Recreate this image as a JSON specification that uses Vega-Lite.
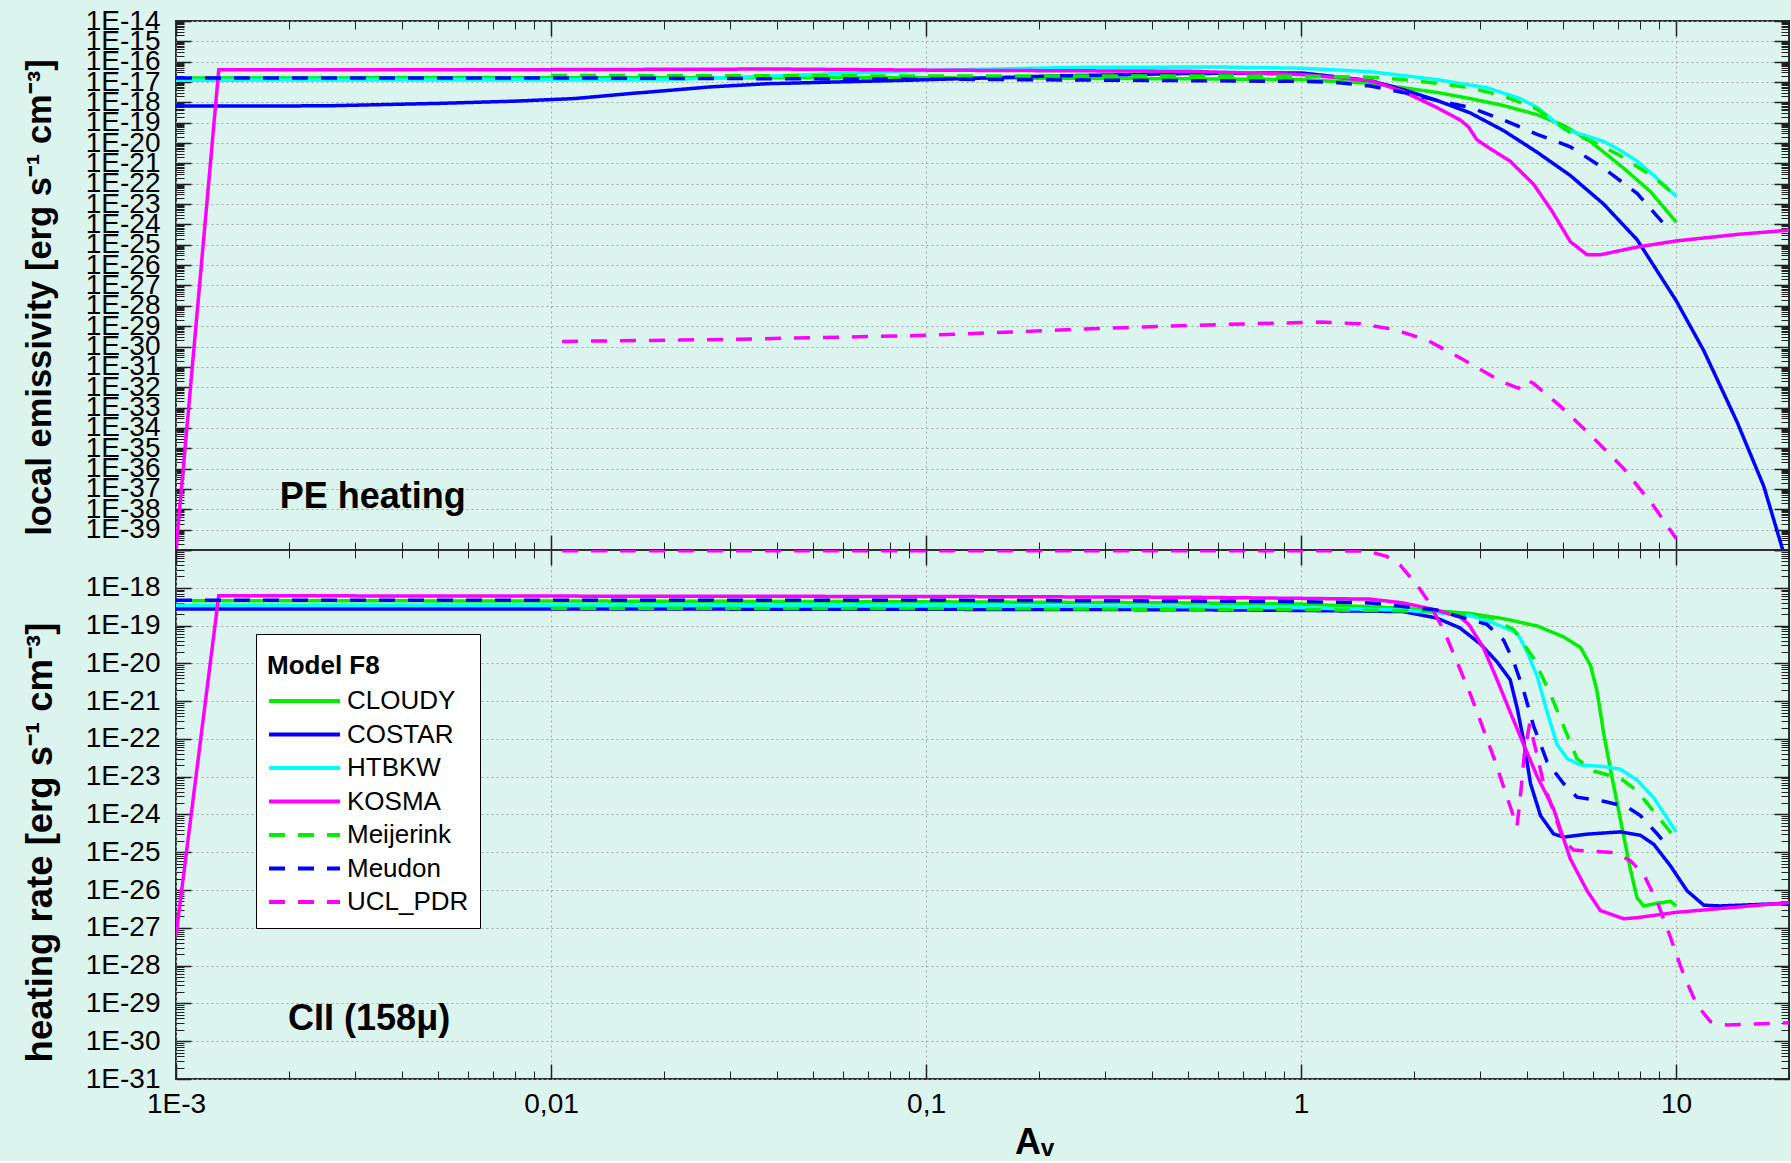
{
  "$schema": "https://vega.github.io/schema/vega-lite/v6.json",
  "background": "#dcf4ee",
  "padding": {"left": 21, "top": 6, "right": 4, "bottom": 0},
  "spacing": 0,
  "bounds": "flush",
  "config": {
    "view": {"stroke": "#303030", "strokeWidth": 2},
    "font": "Liberation Sans",
    "axis": {"domain": false, "labelOverlap": false, "labelFlush": false, "gridColor": "#a8a8a8", "gridDash": [2, 3], "gridWidth": 1, "tickColor": "#202020", "labelColor": "#000000", "labelFont": "Liberation Sans", "labelFontSize": 28, "titleColor": "#000000"}
  },
  "datasets": {
    "notes": [
      {"p": "PE", "t": "PE heating", "x": 0.00189, "y": 1.17e-38},
      {"p": "CII", "t": "CII (158μ)", "x": 0.00199, "y": 1.95e-30}
    ],
    "lines": [
      {"p":"PE","m":"CLOUDY","x":0.0011,"y":1.585e-17},
      {"p":"PE","m":"CLOUDY","x":0.01,"y":1.622e-17},
      {"p":"PE","m":"CLOUDY","x":0.1,"y":1.622e-17},
      {"p":"PE","m":"CLOUDY","x":0.5,"y":1.445e-17},
      {"p":"PE","m":"CLOUDY","x":1,"y":1.318e-17},
      {"p":"PE","m":"CLOUDY","x":1.53,"y":8.71e-18},
      {"p":"PE","m":"CLOUDY","x":1.87,"y":5.25e-18},
      {"p":"PE","m":"CLOUDY","x":2.3,"y":3.09e-18},
      {"p":"PE","m":"CLOUDY","x":2.82,"y":1.549e-18},
      {"p":"PE","m":"CLOUDY","x":3.47,"y":6.92e-19},
      {"p":"PE","m":"CLOUDY","x":4.26,"y":2.512e-19},
      {"p":"PE","m":"CLOUDY","x":5.01,"y":7.41e-20},
      {"p":"PE","m":"CLOUDY","x":5.91,"y":1.202e-20},
      {"p":"PE","m":"CLOUDY","x":7.25,"y":5.75e-22},
      {"p":"PE","m":"CLOUDY","x":8.54,"y":4.17e-23},
      {"p":"PE","m":"CLOUDY","x":10,"y":1.318e-24},

      {"p":"PE","m":"COSTAR","x":0.001,"y":6.607e-19},
      {"p":"PE","m":"COSTAR","x":0.0025,"y":6.761e-19},
      {"p":"PE","m":"COSTAR","x":0.005,"y":8.913e-19},
      {"p":"PE","m":"COSTAR","x":0.008,"y":1.148e-18},
      {"p":"PE","m":"COSTAR","x":0.0116,"y":1.549e-18},
      {"p":"PE","m":"COSTAR","x":0.0164,"y":2.754e-18},
      {"p":"PE","m":"COSTAR","x":0.021,"y":3.981e-18},
      {"p":"PE","m":"COSTAR","x":0.0265,"y":5.754e-18},
      {"p":"PE","m":"COSTAR","x":0.038,"y":8.318e-18},
      {"p":"PE","m":"COSTAR","x":0.09,"y":1.23e-17},
      {"p":"PE","m":"COSTAR","x":0.21,"y":1.95e-17},
      {"p":"PE","m":"COSTAR","x":0.5,"y":2.63e-17},
      {"p":"PE","m":"COSTAR","x":1,"y":2.818e-17},
      {"p":"PE","m":"COSTAR","x":1.53,"y":1.175e-17},
      {"p":"PE","m":"COSTAR","x":1.87,"y":4.266e-18},
      {"p":"PE","m":"COSTAR","x":2.3,"y":1.259e-18},
      {"p":"PE","m":"COSTAR","x":2.82,"y":3.09e-19},
      {"p":"PE","m":"COSTAR","x":3.47,"y":4.074e-20},
      {"p":"PE","m":"COSTAR","x":4.26,"y":3.548e-21},
      {"p":"PE","m":"COSTAR","x":5.22,"y":2.57e-22},
      {"p":"PE","m":"COSTAR","x":6.41,"y":1e-23},
      {"p":"PE","m":"COSTAR","x":7.87,"y":1.778e-25},
      {"p":"PE","m":"COSTAR","x":10,"y":1.82e-28},
      {"p":"PE","m":"COSTAR","x":11.85,"y":6.31e-31},
      {"p":"PE","m":"COSTAR","x":14.55,"y":1.905e-34},
      {"p":"PE","m":"COSTAR","x":17.14,"y":1.318e-37},
      {"p":"PE","m":"COSTAR","x":19.25,"y":1e-40},

      {"p":"PE","m":"HTBKW","x":0.001,"y":1.23e-17},
      {"p":"PE","m":"HTBKW","x":0.02,"y":1.318e-17},
      {"p":"PE","m":"HTBKW","x":0.04,"y":1.995e-17},
      {"p":"PE","m":"HTBKW","x":0.09,"y":3.548e-17},
      {"p":"PE","m":"HTBKW","x":0.25,"y":5.248e-17},
      {"p":"PE","m":"HTBKW","x":0.6,"y":5.495e-17},
      {"p":"PE","m":"HTBKW","x":1,"y":4.786e-17},
      {"p":"PE","m":"HTBKW","x":1.53,"y":3.236e-17},
      {"p":"PE","m":"HTBKW","x":2.3,"y":1.318e-17},
      {"p":"PE","m":"HTBKW","x":3.13,"y":5.25e-18},
      {"p":"PE","m":"HTBKW","x":3.84,"y":1.549e-18},
      {"p":"PE","m":"HTBKW","x":4.26,"y":5.623e-19},
      {"p":"PE","m":"HTBKW","x":5.02,"y":4.898e-20},
      {"p":"PE","m":"HTBKW","x":5.79,"y":2.188e-20},
      {"p":"PE","m":"HTBKW","x":6.41,"y":1.202e-20},
      {"p":"PE","m":"HTBKW","x":7.1,"y":4.365e-21},
      {"p":"PE","m":"HTBKW","x":7.87,"y":1.288e-21},
      {"p":"PE","m":"HTBKW","x":8.72,"y":2.57e-22},
      {"p":"PE","m":"HTBKW","x":10,"y":2.455e-23},

      {"p":"PE","m":"KOSMA","x":0.001,"y":1e-40},
      {"p":"PE","m":"KOSMA","x":0.0013,"y":3.981e-17},
      {"p":"PE","m":"KOSMA","x":0.01,"y":4.074e-17},
      {"p":"PE","m":"KOSMA","x":0.04,"y":4.365e-17},
      {"p":"PE","m":"KOSMA","x":0.11,"y":3.802e-17},
      {"p":"PE","m":"KOSMA","x":0.5,"y":3.388e-17},
      {"p":"PE","m":"KOSMA","x":1,"y":2.344e-17},
      {"p":"PE","m":"KOSMA","x":1.53,"y":1.175e-17},
      {"p":"PE","m":"KOSMA","x":1.87,"y":3.467e-18},
      {"p":"PE","m":"KOSMA","x":2.3,"y":5.623e-19},
      {"p":"PE","m":"KOSMA","x":2.66,"y":1.349e-19},
      {"p":"PE","m":"KOSMA","x":2.8,"y":6.026e-20},
      {"p":"PE","m":"KOSMA","x":2.94,"y":1.479e-20},
      {"p":"PE","m":"KOSMA","x":3.19,"y":5.37e-21},
      {"p":"PE","m":"KOSMA","x":3.61,"y":1.288e-21},
      {"p":"PE","m":"KOSMA","x":4.17,"y":9.333e-23},
      {"p":"PE","m":"KOSMA","x":4.67,"y":4.467e-24},
      {"p":"PE","m":"KOSMA","x":5.22,"y":1.445e-25},
      {"p":"PE","m":"KOSMA","x":5.79,"y":3.236e-26},
      {"p":"PE","m":"KOSMA","x":6.28,"y":3.236e-26},
      {"p":"PE","m":"KOSMA","x":7.87,"y":7.762e-26},
      {"p":"PE","m":"KOSMA","x":10,"y":1.549e-25},
      {"p":"PE","m":"KOSMA","x":14.55,"y":3.236e-25},
      {"p":"PE","m":"KOSMA","x":20,"y":5.248e-25},

      {"p":"PE","m":"Meijerink","x":0.01,"y":2.089e-17},
      {"p":"PE","m":"Meijerink","x":0.1,"y":1.995e-17},
      {"p":"PE","m":"Meijerink","x":0.5,"y":1.995e-17},
      {"p":"PE","m":"Meijerink","x":1,"y":1.905e-17},
      {"p":"PE","m":"Meijerink","x":1.53,"y":1.738e-17},
      {"p":"PE","m":"Meijerink","x":1.87,"y":1.318e-17},
      {"p":"PE","m":"Meijerink","x":2.3,"y":8.71e-18},
      {"p":"PE","m":"Meijerink","x":2.82,"y":5.25e-18},
      {"p":"PE","m":"Meijerink","x":3.47,"y":2.042e-18},
      {"p":"PE","m":"Meijerink","x":4.26,"y":4.571e-19},
      {"p":"PE","m":"Meijerink","x":5.22,"y":3.311e-20},
      {"p":"PE","m":"Meijerink","x":6.12,"y":9.77e-21},
      {"p":"PE","m":"Meijerink","x":7.1,"y":2.399e-21},
      {"p":"PE","m":"Meijerink","x":8.72,"y":2.089e-22},
      {"p":"PE","m":"Meijerink","x":10,"y":2.455e-23},

      {"p":"PE","m":"Meudon","x":0.001,"y":1.585e-17},
      {"p":"PE","m":"Meudon","x":0.01,"y":1.585e-17},
      {"p":"PE","m":"Meudon","x":0.1,"y":1.38e-17},
      {"p":"PE","m":"Meudon","x":0.5,"y":1.175e-17},
      {"p":"PE","m":"Meudon","x":1,"y":1.072e-17},
      {"p":"PE","m":"Meudon","x":1.24,"y":9.55e-18},
      {"p":"PE","m":"Meudon","x":1.53,"y":6.31e-18},
      {"p":"PE","m":"Meudon","x":1.87,"y":3.09e-18},
      {"p":"PE","m":"Meudon","x":2.3,"y":1.259e-18},
      {"p":"PE","m":"Meudon","x":2.82,"y":5.623e-19},
      {"p":"PE","m":"Meudon","x":3.47,"y":1.349e-19},
      {"p":"PE","m":"Meudon","x":4.26,"y":2.692e-20},
      {"p":"PE","m":"Meudon","x":5.22,"y":6.607e-21},
      {"p":"PE","m":"Meudon","x":6.41,"y":5.754e-22},
      {"p":"PE","m":"Meudon","x":7.87,"y":3.388e-23},
      {"p":"PE","m":"Meudon","x":9.27,"y":1.096e-24},

      {"p":"PE","m":"UCL_PDR","x":0.0107,"y":1.778e-30},
      {"p":"PE","m":"UCL_PDR","x":0.03,"y":2.239e-30},
      {"p":"PE","m":"UCL_PDR","x":0.1,"y":3.548e-30},
      {"p":"PE","m":"UCL_PDR","x":0.3,"y":7.943e-30},
      {"p":"PE","m":"UCL_PDR","x":0.6,"y":1.202e-29},
      {"p":"PE","m":"UCL_PDR","x":1.12,"y":1.585e-29},
      {"p":"PE","m":"UCL_PDR","x":1.44,"y":1.318e-29},
      {"p":"PE","m":"UCL_PDR","x":1.76,"y":7.079e-30},
      {"p":"PE","m":"UCL_PDR","x":2.16,"y":2.138e-30},
      {"p":"PE","m":"UCL_PDR","x":2.65,"y":2.818e-31},
      {"p":"PE","m":"UCL_PDR","x":3.4,"y":2.042e-32},
      {"p":"PE","m":"UCL_PDR","x":3.8,"y":8.913e-33},
      {"p":"PE","m":"UCL_PDR","x":4,"y":2.291e-32},
      {"p":"PE","m":"UCL_PDR","x":4.17,"y":1.514e-32},
      {"p":"PE","m":"UCL_PDR","x":4.91,"y":1.175e-33},
      {"p":"PE","m":"UCL_PDR","x":5.9,"y":4.677e-35},
      {"p":"PE","m":"UCL_PDR","x":7.25,"y":1e-36},
      {"p":"PE","m":"UCL_PDR","x":8.72,"y":1.413e-38},
      {"p":"PE","m":"UCL_PDR","x":10,"y":3.715e-40},

      {"p":"CII","m":"CLOUDY","x":0.0011,"y":4.571e-19},
      {"p":"CII","m":"CLOUDY","x":0.01,"y":4.467e-19},
      {"p":"CII","m":"CLOUDY","x":0.1,"y":4.266e-19},
      {"p":"CII","m":"CLOUDY","x":0.5,"y":3.981e-19},
      {"p":"CII","m":"CLOUDY","x":1,"y":3.715e-19},
      {"p":"CII","m":"CLOUDY","x":1.87,"y":2.884e-19},
      {"p":"CII","m":"CLOUDY","x":2.82,"y":2.089e-19},
      {"p":"CII","m":"CLOUDY","x":3.47,"y":1.514e-19},
      {"p":"CII","m":"CLOUDY","x":4.26,"y":9.772e-20},
      {"p":"CII","m":"CLOUDY","x":5.01,"y":5.012e-20},
      {"p":"CII","m":"CLOUDY","x":5.56,"y":2.63e-20},
      {"p":"CII","m":"CLOUDY","x":5.91,"y":8.913e-21},
      {"p":"CII","m":"CLOUDY","x":6.15,"y":1.905e-21},
      {"p":"CII","m":"CLOUDY","x":6.41,"y":1.413e-22},
      {"p":"CII","m":"CLOUDY","x":6.68,"y":1.585e-23},
      {"p":"CII","m":"CLOUDY","x":7.1,"y":7.586e-25},
      {"p":"CII","m":"CLOUDY","x":7.55,"y":3.548e-26},
      {"p":"CII","m":"CLOUDY","x":7.87,"y":6.166e-27},
      {"p":"CII","m":"CLOUDY","x":8.2,"y":3.802e-27},
      {"p":"CII","m":"CLOUDY","x":8.9,"y":4.467e-27},
      {"p":"CII","m":"CLOUDY","x":9.66,"y":5.012e-27},
      {"p":"CII","m":"CLOUDY","x":10,"y":3.802e-27},

      {"p":"CII","m":"COSTAR","x":0.001,"y":2.754e-19},
      {"p":"CII","m":"COSTAR","x":0.01,"y":2.754e-19},
      {"p":"CII","m":"COSTAR","x":0.1,"y":2.692e-19},
      {"p":"CII","m":"COSTAR","x":0.5,"y":2.63e-19},
      {"p":"CII","m":"COSTAR","x":1,"y":2.512e-19},
      {"p":"CII","m":"COSTAR","x":1.53,"y":2.399e-19},
      {"p":"CII","m":"COSTAR","x":1.87,"y":2.344e-19},
      {"p":"CII","m":"COSTAR","x":2.3,"y":1.585e-19},
      {"p":"CII","m":"COSTAR","x":2.65,"y":8.71e-20},
      {"p":"CII","m":"COSTAR","x":3.01,"y":3.236e-20},
      {"p":"CII","m":"COSTAR","x":3.33,"y":1.096e-20},
      {"p":"CII","m":"COSTAR","x":3.61,"y":3.715e-21},
      {"p":"CII","m":"COSTAR","x":3.77,"y":6.457e-22},
      {"p":"CII","m":"COSTAR","x":3.92,"y":9.12e-23},
      {"p":"CII","m":"COSTAR","x":4.09,"y":6.607e-24},
      {"p":"CII","m":"COSTAR","x":4.35,"y":9.333e-25},
      {"p":"CII","m":"COSTAR","x":4.71,"y":3.09e-25},
      {"p":"CII","m":"COSTAR","x":5.01,"y":2.512e-25},
      {"p":"CII","m":"COSTAR","x":5.79,"y":3.02e-25},
      {"p":"CII","m":"COSTAR","x":7.1,"y":3.467e-25},
      {"p":"CII","m":"COSTAR","x":8.03,"y":2.818e-25},
      {"p":"CII","m":"COSTAR","x":8.72,"y":1.622e-25},
      {"p":"CII","m":"COSTAR","x":9.66,"y":4.365e-26},
      {"p":"CII","m":"COSTAR","x":10.7,"y":9.55e-27},
      {"p":"CII","m":"COSTAR","x":11.85,"y":3.981e-27},
      {"p":"CII","m":"COSTAR","x":13.1,"y":3.802e-27},
      {"p":"CII","m":"COSTAR","x":20,"y":4.467e-27},

      {"p":"CII","m":"HTBKW","x":0.001,"y":3.467e-19},
      {"p":"CII","m":"HTBKW","x":0.01,"y":3.467e-19},
      {"p":"CII","m":"HTBKW","x":0.1,"y":3.388e-19},
      {"p":"CII","m":"HTBKW","x":0.5,"y":3.162e-19},
      {"p":"CII","m":"HTBKW","x":1,"y":2.951e-19},
      {"p":"CII","m":"HTBKW","x":1.87,"y":2.57e-19},
      {"p":"CII","m":"HTBKW","x":2.82,"y":1.862e-19},
      {"p":"CII","m":"HTBKW","x":3.33,"y":1.072e-19},
      {"p":"CII","m":"HTBKW","x":3.77,"y":6.31e-20},
      {"p":"CII","m":"HTBKW","x":4,"y":2.089e-20},
      {"p":"CII","m":"HTBKW","x":4.26,"y":4.571e-21},
      {"p":"CII","m":"HTBKW","x":4.53,"y":5.129e-22},
      {"p":"CII","m":"HTBKW","x":4.81,"y":7.244e-23},
      {"p":"CII","m":"HTBKW","x":5.12,"y":3.02e-23},
      {"p":"CII","m":"HTBKW","x":5.56,"y":2.042e-23},
      {"p":"CII","m":"HTBKW","x":6.41,"y":1.862e-23},
      {"p":"CII","m":"HTBKW","x":7.1,"y":1.585e-23},
      {"p":"CII","m":"HTBKW","x":7.87,"y":8.128e-24},
      {"p":"CII","m":"HTBKW","x":8.72,"y":2.754e-24},
      {"p":"CII","m":"HTBKW","x":10,"y":3.467e-25},

      {"p":"CII","m":"KOSMA","x":0.001,"y":6.31e-28},
      {"p":"CII","m":"KOSMA","x":0.0013,"y":6.166e-19},
      {"p":"CII","m":"KOSMA","x":0.01,"y":6.026e-19},
      {"p":"CII","m":"KOSMA","x":0.1,"y":5.888e-19},
      {"p":"CII","m":"KOSMA","x":0.5,"y":5.623e-19},
      {"p":"CII","m":"KOSMA","x":1,"y":5.248e-19},
      {"p":"CII","m":"KOSMA","x":1.53,"y":5.012e-19},
      {"p":"CII","m":"KOSMA","x":1.87,"y":3.981e-19},
      {"p":"CII","m":"KOSMA","x":2.3,"y":2.57e-19},
      {"p":"CII","m":"KOSMA","x":2.66,"y":1.66e-19},
      {"p":"CII","m":"KOSMA","x":2.8,"y":1.072e-19},
      {"p":"CII","m":"KOSMA","x":3.06,"y":2.63e-20},
      {"p":"CII","m":"KOSMA","x":3.33,"y":3.715e-21},
      {"p":"CII","m":"KOSMA","x":3.61,"y":5.129e-22},
      {"p":"CII","m":"KOSMA","x":3.92,"y":7.244e-23},
      {"p":"CII","m":"KOSMA","x":4.26,"y":1.023e-23},
      {"p":"CII","m":"KOSMA","x":4.71,"y":1.445e-24},
      {"p":"CII","m":"KOSMA","x":5.22,"y":6.761e-26},
      {"p":"CII","m":"KOSMA","x":5.79,"y":9.55e-27},
      {"p":"CII","m":"KOSMA","x":6.28,"y":2.884e-27},
      {"p":"CII","m":"KOSMA","x":7.25,"y":1.738e-27},
      {"p":"CII","m":"KOSMA","x":7.87,"y":1.862e-27},
      {"p":"CII","m":"KOSMA","x":10,"y":2.57e-27},
      {"p":"CII","m":"KOSMA","x":14.55,"y":3.548e-27},
      {"p":"CII","m":"KOSMA","x":20,"y":4.677e-27},

      {"p":"CII","m":"Meijerink","x":0.01,"y":2.884e-19},
      {"p":"CII","m":"Meijerink","x":0.1,"y":2.818e-19},
      {"p":"CII","m":"Meijerink","x":0.5,"y":2.692e-19},
      {"p":"CII","m":"Meijerink","x":1,"y":2.63e-19},
      {"p":"CII","m":"Meijerink","x":2.3,"y":2.399e-19},
      {"p":"CII","m":"Meijerink","x":3.19,"y":1.66e-19},
      {"p":"CII","m":"Meijerink","x":3.69,"y":7.762e-20},
      {"p":"CII","m":"Meijerink","x":4.17,"y":1.349e-20},
      {"p":"CII","m":"Meijerink","x":4.62,"y":1.549e-21},
      {"p":"CII","m":"Meijerink","x":5.01,"y":2.188e-22},
      {"p":"CII","m":"Meijerink","x":5.44,"y":3.02e-23},
      {"p":"CII","m":"Meijerink","x":6.03,"y":1.413e-23},
      {"p":"CII","m":"Meijerink","x":7.1,"y":9.12e-24},
      {"p":"CII","m":"Meijerink","x":7.87,"y":4.266e-24},
      {"p":"CII","m":"Meijerink","x":8.9,"y":9.333e-25},
      {"p":"CII","m":"Meijerink","x":10,"y":2.239e-25},

      {"p":"CII","m":"Meudon","x":0.001,"y":4.677e-19},
      {"p":"CII","m":"Meudon","x":0.01,"y":4.677e-19},
      {"p":"CII","m":"Meudon","x":0.1,"y":4.677e-19},
      {"p":"CII","m":"Meudon","x":0.5,"y":4.467e-19},
      {"p":"CII","m":"Meudon","x":1,"y":4.266e-19},
      {"p":"CII","m":"Meudon","x":1.53,"y":3.981e-19},
      {"p":"CII","m":"Meudon","x":2.3,"y":2.57e-19},
      {"p":"CII","m":"Meudon","x":3.13,"y":1.072e-19},
      {"p":"CII","m":"Meudon","x":3.47,"y":4.074e-20},
      {"p":"CII","m":"Meudon","x":3.69,"y":1.096e-20},
      {"p":"CII","m":"Meudon","x":3.92,"y":1.905e-21},
      {"p":"CII","m":"Meudon","x":4.17,"y":2.188e-22},
      {"p":"CII","m":"Meudon","x":4.53,"y":2.455e-23},
      {"p":"CII","m":"Meudon","x":5.01,"y":6.607e-24},
      {"p":"CII","m":"Meudon","x":5.44,"y":2.884e-24},
      {"p":"CII","m":"Meudon","x":6.41,"y":2.239e-24},
      {"p":"CII","m":"Meudon","x":7.4,"y":1.585e-24},
      {"p":"CII","m":"Meudon","x":8.03,"y":9.333e-25},
      {"p":"CII","m":"Meudon","x":8.9,"y":3.09e-25},
      {"p":"CII","m":"Meudon","x":9.56,"y":1.318e-25},

      {"p":"CII","m":"UCL_PDR","x":0.0107,"y":9.6e-18},
      {"p":"CII","m":"UCL_PDR","x":1,"y":9.6e-18},
      {"p":"CII","m":"UCL_PDR","x":1.497,"y":9.4e-18},
      {"p":"CII","m":"UCL_PDR","x":1.693,"y":6.761e-18},
      {"p":"CII","m":"UCL_PDR","x":1.837,"y":3.981e-18},
      {"p":"CII","m":"UCL_PDR","x":2.035,"y":1.202e-18},
      {"p":"CII","m":"UCL_PDR","x":2.165,"y":5.012e-19},
      {"p":"CII","m":"UCL_PDR","x":2.398,"y":7.762e-20},
      {"p":"CII","m":"UCL_PDR","x":2.604,"y":1.096e-20},
      {"p":"CII","m":"UCL_PDR","x":2.826,"y":1.549e-21},
      {"p":"CII","m":"UCL_PDR","x":3.067,"y":1.738e-22},
      {"p":"CII","m":"UCL_PDR","x":3.296,"y":2.455e-23},
      {"p":"CII","m":"UCL_PDR","x":3.467,"y":5.37e-24},
      {"p":"CII","m":"UCL_PDR","x":3.764,"y":4.786e-25},
      {"p":"CII","m":"UCL_PDR","x":3.841,"y":2.754e-24},
      {"p":"CII","m":"UCL_PDR","x":3.937,"y":3.802e-23},
      {"p":"CII","m":"UCL_PDR","x":4.068,"y":2.512e-22},
      {"p":"CII","m":"UCL_PDR","x":4.436,"y":6.607e-24},
      {"p":"CII","m":"UCL_PDR","x":5.014,"y":1.995e-25},
      {"p":"CII","m":"UCL_PDR","x":5.333,"y":1.148e-25},
      {"p":"CII","m":"UCL_PDR","x":6.818,"y":9.772e-26},
      {"p":"CII","m":"UCL_PDR","x":7.552,"y":6.026e-26},
      {"p":"CII","m":"UCL_PDR","x":8.197,"y":2.57e-26},
      {"p":"CII","m":"UCL_PDR","x":8.899,"y":5.012e-27},
      {"p":"CII","m":"UCL_PDR","x":9.658,"y":5.623e-28},
      {"p":"CII","m":"UCL_PDR","x":10.48,"y":5.623e-29},
      {"p":"CII","m":"UCL_PDR","x":11.38,"y":8.913e-30},
      {"p":"CII","m":"UCL_PDR","x":12.35,"y":3.311e-30},
      {"p":"CII","m":"UCL_PDR","x":13.68,"y":2.692e-30},
      {"p":"CII","m":"UCL_PDR","x":20,"y":3.09e-30}
    ]
  },
  "resolve": {
    "scale": {"x": "independent", "y": "independent", "color": "independent", "strokeDash": "independent"},
    "legend": {"color": "independent", "strokeDash": "independent"}
  },
  "vconcat": [
    {
      "width": 1613,
      "height": 529,
      "resolve": {"axis": {"x": "independent", "y": "independent"}},
      "layer": [
        {
          "data": {"name": "lines"},
          "transform": [{"filter": "datum.p === 'PE'"}],
          "mark": {"type": "line", "strokeWidth": 3.5, "clip": true},
          "encoding": {
            "x": {"field": "x", "type": "quantitative", "scale": {"type": "log", "domain": [0.001, 20], "nice": false},
              "axis": {"orient": "bottom", "values": [0.001, 0.01, 0.1, 1, 10], "labels": false, "ticks": false, "grid": true, "title": null}},
            "y": {"field": "y", "type": "quantitative", "scale": {"type": "log", "domain": [1e-40, 1e-14], "nice": false},
              "axis": {"orient": "left", "values": [1e-14, 1e-15, 1e-16, 1e-17, 1e-18, 1e-19, 1e-20, 1e-21, 1e-22, 1e-23, 1e-24, 1e-25, 1e-26, 1e-27, 1e-28, 1e-29, 1e-30, 1e-31, 1e-32, 1e-33, 1e-34, 1e-35, 1e-36, 1e-37, 1e-38, 1e-39],
                "ticks": false, "grid": true, "labelPadding": 16, "labelExpr": "'1E-' + round(-log(datum.value)/LN10)",
                "title": "local emissivity [erg s⁻¹ cm⁻³]", "titleFontSize": 34.5, "titleFontWeight": "bold", "titleX": -136, "titleY": 276, "titleAngle": -90, "titleAlign": "center", "titleBaseline": "middle"}},
            "color": {"field": "m", "type": "nominal", "scale": {"domain": ["CLOUDY", "COSTAR", "HTBKW", "KOSMA", "Meijerink", "Meudon", "UCL_PDR"], "range": ["#00ee00", "#0000ff", "#00ffff", "#ff00ff", "#00ee00", "#0000ff", "#ff00ff"]}, "legend": null},
            "strokeDash": {"field": "m", "type": "nominal", "scale": {"domain": ["CLOUDY", "COSTAR", "HTBKW", "KOSMA", "Meijerink", "Meudon", "UCL_PDR"], "range": [[1, 0], [1, 0], [1, 0], [1, 0], [16, 13], [16, 13], [16, 13]]}, "legend": null}
          }
        },
        {
          "data": {"values": []},
          "mark": "point",
          "encoding": {
            "x": {"field": "x", "type": "quantitative", "scale": {"type": "log", "domain": [0.001, 20], "nice": false},
              "axis": {"orient": "bottom", "values": [0.001, 0.01, 0.1, 1, 10], "labels": false, "grid": false, "tickSize": -15, "tickWidth": 1.5, "title": null}},
            "y": {"field": "y", "type": "quantitative", "scale": {"type": "log", "domain": [1e-40, 1e-14], "nice": false},
              "axis": {"orient": "left", "values": [1e-14, 1e-15, 1e-16, 1e-17, 1e-18, 1e-19, 1e-20, 1e-21, 1e-22, 1e-23, 1e-24, 1e-25, 1e-26, 1e-27, 1e-28, 1e-29, 1e-30, 1e-31, 1e-32, 1e-33, 1e-34, 1e-35, 1e-36, 1e-37, 1e-38, 1e-39, 1e-40], "labels": false, "grid": false, "tickSize": -15, "tickWidth": 1.5, "title": null}}
          }
        },
        {
          "data": {"values": []},
          "mark": "point",
          "encoding": {
            "x": {"field": "x", "type": "quantitative", "scale": {"type": "log", "domain": [0.001, 20], "nice": false},
              "axis": {"orient": "bottom", "tickCount": 40, "labels": false, "grid": false, "tickSize": -8, "tickWidth": 1, "title": null}},
            "y": {"field": "y", "type": "quantitative", "scale": {"type": "log", "domain": [1e-40, 1e-14], "nice": false},
              "axis": {"orient": "left", "tickCount": 240, "labels": false, "grid": false, "tickSize": -8, "tickWidth": 1, "title": null}}
          }
        },
        {
          "data": {"values": []},
          "mark": "point",
          "encoding": {
            "x": {"field": "x", "type": "quantitative", "scale": {"type": "log", "domain": [0.001, 20], "nice": false},
              "axis": {"orient": "top", "values": [0.001, 0.01, 0.1, 1, 10], "labels": false, "grid": false, "tickSize": -15, "tickWidth": 1.5, "title": null}},
            "y": {"field": "y", "type": "quantitative", "scale": {"type": "log", "domain": [1e-40, 1e-14], "nice": false},
              "axis": {"orient": "right", "values": [1e-14, 1e-15, 1e-16, 1e-17, 1e-18, 1e-19, 1e-20, 1e-21, 1e-22, 1e-23, 1e-24, 1e-25, 1e-26, 1e-27, 1e-28, 1e-29, 1e-30, 1e-31, 1e-32, 1e-33, 1e-34, 1e-35, 1e-36, 1e-37, 1e-38, 1e-39, 1e-40], "labels": false, "grid": false, "tickSize": -15, "tickWidth": 1.5, "title": null}}
          }
        },
        {
          "data": {"values": []},
          "mark": "point",
          "encoding": {
            "x": {"field": "x", "type": "quantitative", "scale": {"type": "log", "domain": [0.001, 20], "nice": false},
              "axis": {"orient": "top", "tickCount": 40, "labels": false, "grid": false, "tickSize": -8, "tickWidth": 1, "title": null}},
            "y": {"field": "y", "type": "quantitative", "scale": {"type": "log", "domain": [1e-40, 1e-14], "nice": false},
              "axis": {"orient": "right", "tickCount": 240, "labels": false, "grid": false, "tickSize": -8, "tickWidth": 1, "title": null}}
          }
        },
        {
          "data": {"name": "notes"},
          "transform": [{"filter": "datum.p === 'PE'"}],
          "mark": {"type": "text", "align": "left", "baseline": "alphabetic", "fontSize": 36, "fontWeight": "bold", "font": "Liberation Sans", "color": "#000000"},
          "encoding": {
            "x": {"field": "x", "type": "quantitative", "scale": {"type": "log", "domain": [0.001, 20], "nice": false}, "axis": null},
            "y": {"field": "y", "type": "quantitative", "scale": {"type": "log", "domain": [1e-40, 1e-14], "nice": false}, "axis": null},
            "text": {"field": "t"}
          }
        }
      ]
    },
    {
      "width": 1613,
      "height": 529,
      "resolve": {"axis": {"x": "independent", "y": "independent"}},
      "layer": [
        {
          "data": {"name": "lines"},
          "transform": [{"filter": "datum.p === 'CII'"}],
          "mark": {"type": "line", "strokeWidth": 3.5, "clip": true},
          "encoding": {
            "x": {"field": "x", "type": "quantitative", "scale": {"type": "log", "domain": [0.001, 20], "nice": false},
              "axis": {"orient": "bottom", "values": [0.001, 0.01, 0.1, 1, 10], "ticks": false, "grid": true, "labelPadding": 11,
                "labelExpr": "datum.value < 0.005 ? '1E-3' : datum.value < 0.05 ? '0,01' : datum.value < 0.5 ? '0,1' : datum.value < 5 ? '1' : '10'",
                "title": "Aᵥ", "titleFont": "Liberation Sans", "titleFontSize": 36, "titleFontWeight": "bold", "titleX": 858, "titleY": 74, "titleAlign": "center", "titleBaseline": "alphabetic"}},
            "y": {"field": "y", "type": "quantitative", "scale": {"type": "log", "domain": [1e-31, 1e-17], "nice": false},
              "axis": {"orient": "left", "values": [1e-18, 1e-19, 1e-20, 1e-21, 1e-22, 1e-23, 1e-24, 1e-25, 1e-26, 1e-27, 1e-28, 1e-29, 1e-30, 1e-31],
                "ticks": false, "grid": true, "labelPadding": 16, "labelExpr": "'1E-' + round(-log(datum.value)/LN10)",
                "title": "heating rate [erg s⁻¹ cm⁻³]", "titleFontSize": 36.5, "titleFontWeight": "bold", "titleX": -136, "titleY": 292, "titleAngle": -90, "titleAlign": "center", "titleBaseline": "middle"}},
            "color": {"field": "m", "type": "nominal", "scale": {"domain": ["CLOUDY", "COSTAR", "HTBKW", "KOSMA", "Meijerink", "Meudon", "UCL_PDR"], "range": ["#00ee00", "#0000ff", "#00ffff", "#ff00ff", "#00ee00", "#0000ff", "#ff00ff"]},
              "legend": {"orient": "none", "legendX": 80, "legendY": 84, "title": ["", "Model F8"], "titleFont": "Liberation Sans", "titleFontSize": 26, "titleFontWeight": "bold", "titleColor": "#000000", "titleLineHeight": 8, "titlePadding": 7, "labelFont": "Liberation Sans", "labelFontSize": 26, "labelColor": "#000000", "labelOffset": 5, "labelLimit": 400, "symbolType": "stroke", "symbolSize": 5041, "symbolStrokeWidth": 4, "fillColor": "#ffffff", "strokeColor": "#000000", "padding": 11, "clipHeight": 30, "rowPadding": 3.5}},
            "strokeDash": {"field": "m", "type": "nominal", "scale": {"domain": ["CLOUDY", "COSTAR", "HTBKW", "KOSMA", "Meijerink", "Meudon", "UCL_PDR"], "range": [[1, 0], [1, 0], [1, 0], [1, 0], [16, 13], [16, 13], [16, 13]]},
              "legend": {"orient": "none", "legendX": 80, "legendY": 84, "title": ["", "Model F8"], "titleFont": "Liberation Sans", "titleFontSize": 26, "titleFontWeight": "bold", "titleColor": "#000000", "titleLineHeight": 8, "titlePadding": 7, "labelFont": "Liberation Sans", "labelFontSize": 26, "labelColor": "#000000", "labelOffset": 5, "labelLimit": 400, "symbolType": "stroke", "symbolSize": 5041, "symbolStrokeWidth": 4, "fillColor": "#ffffff", "strokeColor": "#000000", "padding": 11, "clipHeight": 30, "rowPadding": 3.5}}
          }
        },
        {
          "data": {"values": []},
          "mark": "point",
          "encoding": {
            "x": {"field": "x", "type": "quantitative", "scale": {"type": "log", "domain": [0.001, 20], "nice": false},
              "axis": {"orient": "bottom", "values": [0.001, 0.01, 0.1, 1, 10], "labels": false, "grid": false, "tickSize": -15, "tickWidth": 1.5, "title": null}},
            "y": {"field": "y", "type": "quantitative", "scale": {"type": "log", "domain": [1e-31, 1e-17], "nice": false},
              "axis": {"orient": "left", "values": [1e-17, 1e-18, 1e-19, 1e-20, 1e-21, 1e-22, 1e-23, 1e-24, 1e-25, 1e-26, 1e-27, 1e-28, 1e-29, 1e-30, 1e-31], "labels": false, "grid": false, "tickSize": -15, "tickWidth": 1.5, "title": null}}
          }
        },
        {
          "data": {"values": []},
          "mark": "point",
          "encoding": {
            "x": {"field": "x", "type": "quantitative", "scale": {"type": "log", "domain": [0.001, 20], "nice": false},
              "axis": {"orient": "bottom", "tickCount": 40, "labels": false, "grid": false, "tickSize": -8, "tickWidth": 1, "title": null}},
            "y": {"field": "y", "type": "quantitative", "scale": {"type": "log", "domain": [1e-31, 1e-17], "nice": false},
              "axis": {"orient": "left", "tickCount": 130, "labels": false, "grid": false, "tickSize": -8, "tickWidth": 1, "title": null}}
          }
        },
        {
          "data": {"values": []},
          "mark": "point",
          "encoding": {
            "x": {"field": "x", "type": "quantitative", "scale": {"type": "log", "domain": [0.001, 20], "nice": false},
              "axis": {"orient": "top", "values": [0.001, 0.01, 0.1, 1, 10], "labels": false, "grid": false, "tickSize": -15, "tickWidth": 1.5, "title": null}},
            "y": {"field": "y", "type": "quantitative", "scale": {"type": "log", "domain": [1e-31, 1e-17], "nice": false},
              "axis": {"orient": "right", "values": [1e-17, 1e-18, 1e-19, 1e-20, 1e-21, 1e-22, 1e-23, 1e-24, 1e-25, 1e-26, 1e-27, 1e-28, 1e-29, 1e-30, 1e-31], "labels": false, "grid": false, "tickSize": -15, "tickWidth": 1.5, "title": null}}
          }
        },
        {
          "data": {"values": []},
          "mark": "point",
          "encoding": {
            "x": {"field": "x", "type": "quantitative", "scale": {"type": "log", "domain": [0.001, 20], "nice": false},
              "axis": {"orient": "top", "tickCount": 40, "labels": false, "grid": false, "tickSize": -8, "tickWidth": 1, "title": null}},
            "y": {"field": "y", "type": "quantitative", "scale": {"type": "log", "domain": [1e-31, 1e-17], "nice": false},
              "axis": {"orient": "right", "tickCount": 130, "labels": false, "grid": false, "tickSize": -8, "tickWidth": 1, "title": null}}
          }
        },
        {
          "data": {"name": "notes"},
          "transform": [{"filter": "datum.p === 'CII'"}],
          "mark": {"type": "text", "align": "left", "baseline": "alphabetic", "fontSize": 36, "fontWeight": "bold", "font": "Liberation Sans", "color": "#000000"},
          "encoding": {
            "x": {"field": "x", "type": "quantitative", "scale": {"type": "log", "domain": [0.001, 20], "nice": false}, "axis": null},
            "y": {"field": "y", "type": "quantitative", "scale": {"type": "log", "domain": [1e-31, 1e-17], "nice": false}, "axis": null},
            "text": {"field": "t"}
          }
        }
      ]
    }
  ]
}
